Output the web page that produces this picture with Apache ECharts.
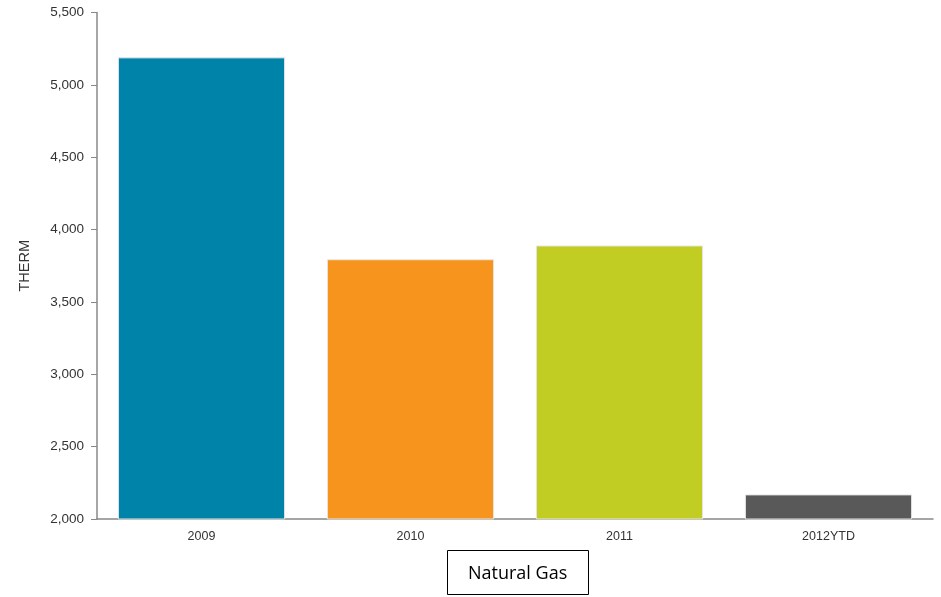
<!DOCTYPE html>
<html><head><meta charset="utf-8">
<script src="https://cdn.jsdelivr.net/npm/echarts@6/dist/echarts.min.js"></script>
<style>html,body{margin:0;padding:0;background:#fff}#c{width:941px;height:597px}</style>
</head><body><div id="c"></div>
<script>
const categories = ['2009', '2010', '2011', '2012YTD'];
const values = [5190, 3795, 3890, 2170];
const barColors = ['#0083A9', '#F7941E', '#C1CD23', '#595959'];
const yTicks = [2000, 2500, 3000, 3500, 4000, 4500, 5000, 5500];
const FONT = '"Liberation Sans", Arial, sans-serif';

const chart = echarts.init(document.getElementById('c'));
chart.setOption({
  animation: false,
  backgroundColor: '#fff',
  grid: { left: 97, right: 8, top: 12.5, bottom: 78 },
  title: {
    text: 'Natural Gas',
    left: 447, top: 550,
    borderColor: '#000', borderWidth: 1,
    padding: [13, 21, 11, 21],
    textStyle: { fontFamily: '"Open Sans", "Liberation Sans", sans-serif', fontSize: 18, lineHeight: 21, fontWeight: 'normal', color: '#000' }
  },
  xAxis: {
    type: 'category', data: categories,
    axisLine: { lineStyle: { color: '#888', width: 1.5 } },
    axisTick: { show: false },
    axisLabel: { color: '#333', fontSize: 12.5, fontFamily: FONT, margin: 11 }
  },
  yAxis: {
    type: 'value', min: yTicks[0], max: yTicks[yTicks.length - 1], interval: 500,
    name: 'THERM', nameLocation: 'middle', nameGap: 65, nameRotate: 90,
    nameTextStyle: { color: '#333', fontSize: 14.5, fontFamily: FONT },
    axisLine: { show: true, lineStyle: { color: '#888', width: 1.5 } },
    axisTick: { show: true, length: 6, lineStyle: { color: '#888' } },
    splitLine: { show: false },
    axisLabel: {
      color: '#333', fontSize: 13.5, fontFamily: FONT, margin: 13,
      formatter: v => v.toLocaleString('en-US')
    }
  },
  series: [{
    type: 'bar',
    barWidth: '80%',
    data: values.map((v, i) => ({ value: v, itemStyle: { color: barColors[i], borderColor: '#e6e6e6', borderWidth: 1 } }))
  }]
});
</script></body></html>
